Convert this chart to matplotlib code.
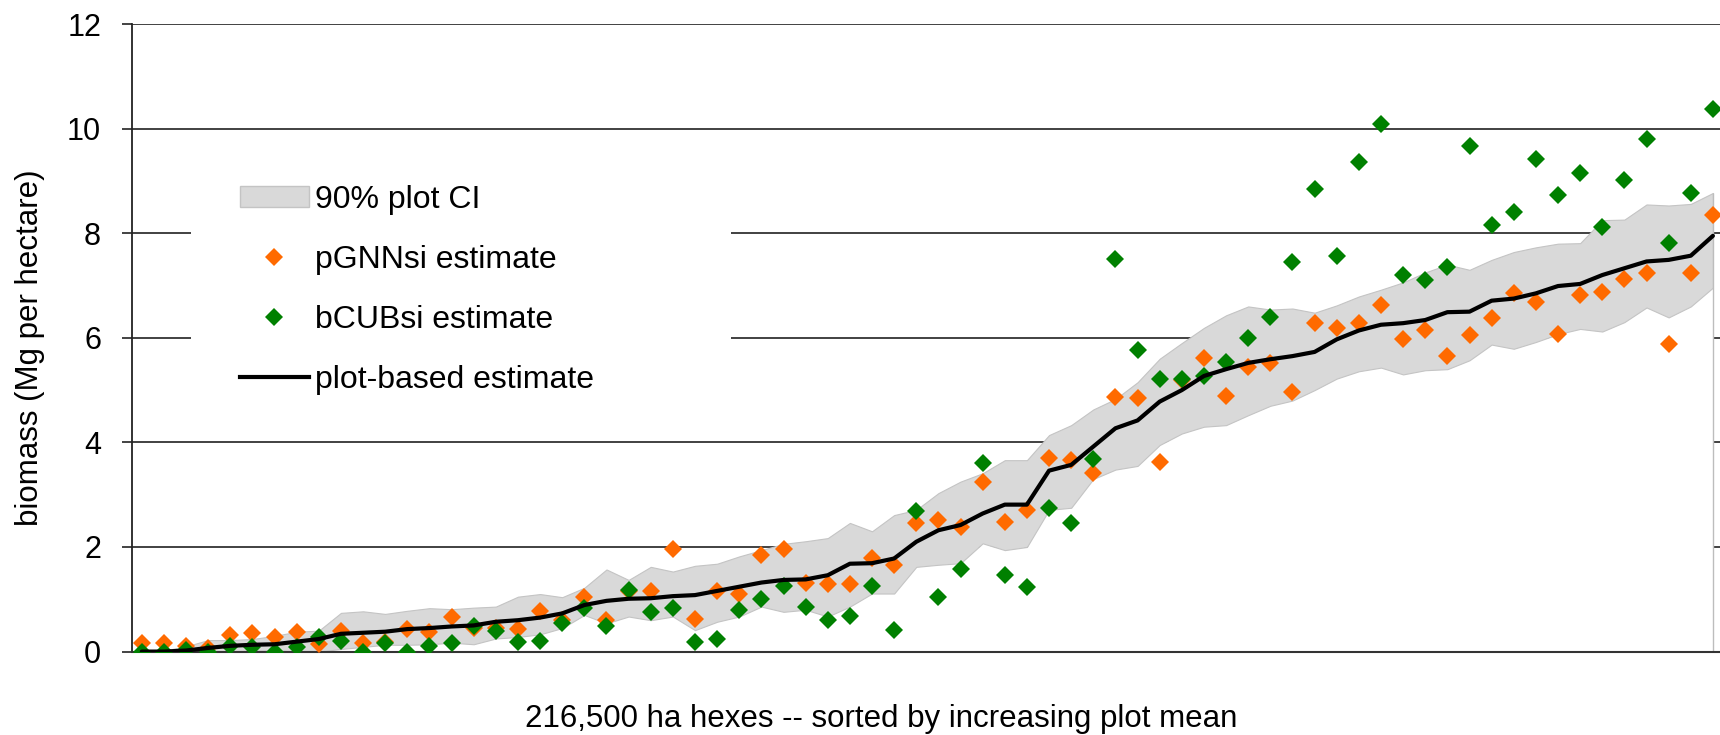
import numpy as np
import matplotlib.pyplot as plt
from matplotlib.patches import Patch, Rectangle
from matplotlib.lines import Line2D

plt.rcParams['font.family'] = ['Liberation Sans', 'DejaVu Sans']

# hexes sorted by increasing plot mean (Mg per hectare)
pgnn = [0.16, 0.16, 0.10, 0.07, 0.32, 0.36, 0.28, 0.38, 0.14, 0.39,
        0.17, 0.19, 0.43, 0.38, 0.66, 0.45, 0.45, 0.43, 0.78, 0.60,
        1.05, 0.60, 1.15, 1.15, 1.96, 0.62, 1.15, 1.11, 1.85, 1.96,
        1.32, 1.29, 1.30, 1.79, 1.66, 2.45, 2.52, 2.38, 3.25, 2.48,
        2.70, 3.71, 3.67, 3.41, 4.87, 4.85, 3.63, 5.19, 5.62, 4.89,
        5.45, 5.52, 4.96, 6.28, 6.19, 6.29, 6.63, 5.98, 6.14, 5.65,
        6.05, 6.37, 6.85, 6.69, 6.07, 6.82, 6.88, 7.12, 7.24, 5.88,
        7.24, 8.35]
bcub = [0.00, 0.00, 0.03, 0.00, 0.10, 0.09, 0.00, 0.09, 0.28, 0.20,
        0.00, 0.17, 0.00, 0.10, 0.16, 0.48, 0.39, 0.18, 0.21, 0.54,
        0.84, 0.48, 1.18, 0.75, 0.84, 0.19, 0.25, 0.80, 1.00, 1.26,
        0.86, 0.60, 0.68, 1.26, 0.41, 2.69, 1.04, 1.57, 3.60, 1.47,
        1.24, 2.74, 2.46, 3.68, 7.50, 5.77, 5.22, 5.21, 5.27, 5.53,
        5.99, 6.40, 7.45, 8.85, 7.57, 9.37, 10.09, 7.21, 7.11, 7.35,
        9.67, 8.16, 8.40, 9.41, 8.74, 9.16, 8.11, 9.02, 9.81, 7.82,
        8.76, 10.37]
plot_mean = [0.00, 0.00, 0.02, 0.07, 0.11, 0.13, 0.14, 0.19, 0.24, 0.34,
             0.36, 0.38, 0.43, 0.45, 0.48, 0.50, 0.57, 0.60, 0.65, 0.73,
             0.89, 0.97, 1.01, 1.02, 1.06, 1.08, 1.16, 1.24, 1.32, 1.37,
             1.38, 1.46, 1.68, 1.69, 1.78, 2.10, 2.32, 2.42, 2.64, 2.81,
             2.81, 3.46, 3.57, 3.92, 4.27, 4.42, 4.78, 5.00, 5.27, 5.40,
             5.52, 5.59, 5.65, 5.73, 5.97, 6.14, 6.25, 6.28, 6.34, 6.49,
             6.50, 6.71, 6.75, 6.85, 6.99, 7.03, 7.20, 7.33, 7.46, 7.49,
             7.57, 7.95]
ci_low = [0.00, 0.00, 0.00, 0.00, 0.00, 0.02, 0.03, 0.00, 0.00, 0.05,
          0.09, 0.13, 0.13, 0.14, 0.17, 0.14, 0.25, 0.28, 0.33, 0.45,
          0.70, 0.54, 0.67, 0.60, 0.67, 0.41, 0.57, 0.67, 0.86, 0.76,
          0.80, 0.67, 0.86, 1.11, 1.11, 1.62, 1.66, 1.69, 2.07, 1.94,
          2.00, 2.71, 2.75, 3.30, 3.48, 3.55, 3.95, 4.17, 4.30, 4.33,
          4.52, 4.70, 4.80, 5.00, 5.22, 5.36, 5.43, 5.30, 5.38, 5.40,
          5.57, 5.87, 5.79, 5.92, 6.07, 6.17, 6.12, 6.30, 6.58, 6.39,
          6.60, 6.96]
ci_high = [0.00, 0.02, 0.10, 0.22, 0.22, 0.24, 0.30, 0.38, 0.40, 0.74,
           0.77, 0.72, 0.78, 0.83, 0.81, 0.84, 0.86, 1.05, 1.10, 1.04,
           1.22, 1.57, 1.37, 1.62, 1.53, 1.64, 1.68, 1.82, 1.94, 2.06,
           2.11, 2.17, 2.46, 2.30, 2.61, 2.71, 3.03, 3.25, 3.41, 3.66,
           3.66, 4.14, 4.33, 4.63, 4.83, 5.15, 5.60, 5.90, 6.19, 6.43,
           6.60, 6.54, 6.56, 6.48, 6.62, 6.79, 6.92, 7.06, 7.25, 7.40,
           7.30, 7.49, 7.64, 7.73, 7.80, 7.81, 8.25, 8.26, 8.55, 8.53,
           8.56, 8.77]

hexes = np.arange(len(plot_mean))

fig = plt.figure(figsize=(17.2, 7.35), dpi=100)
ax = fig.add_axes([0.0765, 0.1135, 0.9235, 0.8538])

ax.set_axisbelow(True)
ax.yaxis.grid(True, color='#333333', lw=1.3)

# white under the band hides the gridlines, like the stacked area in the original
ax.fill_between(hexes, 0, ci_low, color='white', lw=0, zorder=1)
ax.fill_between(hexes, ci_low, ci_high, facecolor='#d9d9d9',
                edgecolor='#c4c4c4', lw=0.8, zorder=1)
ax.vlines(hexes[-1], 0, ci_high[-1], color='#bdbdbd', lw=1.0, zorder=1)

# white box behind the legend (hides part of the 6 and 8 gridlines)
ax.add_patch(Rectangle((0.0375, 0.42), 0.34, 0.36, transform=ax.transAxes,
                       facecolor='white', edgecolor='none', zorder=1.5))

ax.plot(hexes, pgnn, 'D', color='#ff6a00', ms=9.4, mew=0, zorder=3)
ax.plot(hexes, bcub, 'D', color='#008000', ms=9.4, mew=0, zorder=4)
ax.plot(hexes, plot_mean, color='black', lw=3, zorder=5,
        solid_capstyle='round', solid_joinstyle='round')

ax.set_xlim(-0.461, 71.32)
ax.set_ylim(0, 12)
ax.set_yticks(range(0, 13, 2))
ax.set_xticks([])
ax.tick_params(axis='y', direction='out', length=7, width=1.2, pad=15,
               labelsize=22, color='#222222')

for side in ['top', 'right']:
    ax.spines[side].set_visible(False)
ax.spines['left'].set_color('#222222')
ax.spines['left'].set_linewidth(1.3)
ax.spines['bottom'].set_color('#333333')
ax.spines['bottom'].set_linewidth(1.5)

ax.set_ylabel('biomass (Mg per hectare)', fontsize=22.5, va='center')
ax.yaxis.set_label_coords(-0.0642, 0.4837)
ax.set_xlabel('216,500 ha hexes -- sorted by increasing plot mean',
              fontsize=22.5, va='center')
ax.xaxis.set_label_coords(0.472, -0.1068)

handles = [
    Patch(facecolor='#d9d9d9', edgecolor='#c4c4c4', label='90% plot CI'),
    Line2D([], [], marker='D', color='#ff6a00', ls='none', ms=9.4, mew=0,
           label='pGNNsi estimate'),
    Line2D([], [], marker='D', color='#008000', ls='none', ms=9.4, mew=0,
           label='bCUBsi estimate'),
    Line2D([], [], color='black', lw=3, label='plot-based estimate'),
]
leg = ax.legend(handles=handles, loc='upper left', bbox_to_anchor=(0.0683, 0.744),
                frameon=False, fontsize=23, borderpad=0, borderaxespad=0,
                handlelength=2.15, handletextpad=0.2, labelspacing=0.94,
                handleheight=0.6)
leg.set_zorder(6)

fig.savefig('out.png', dpi=100)
